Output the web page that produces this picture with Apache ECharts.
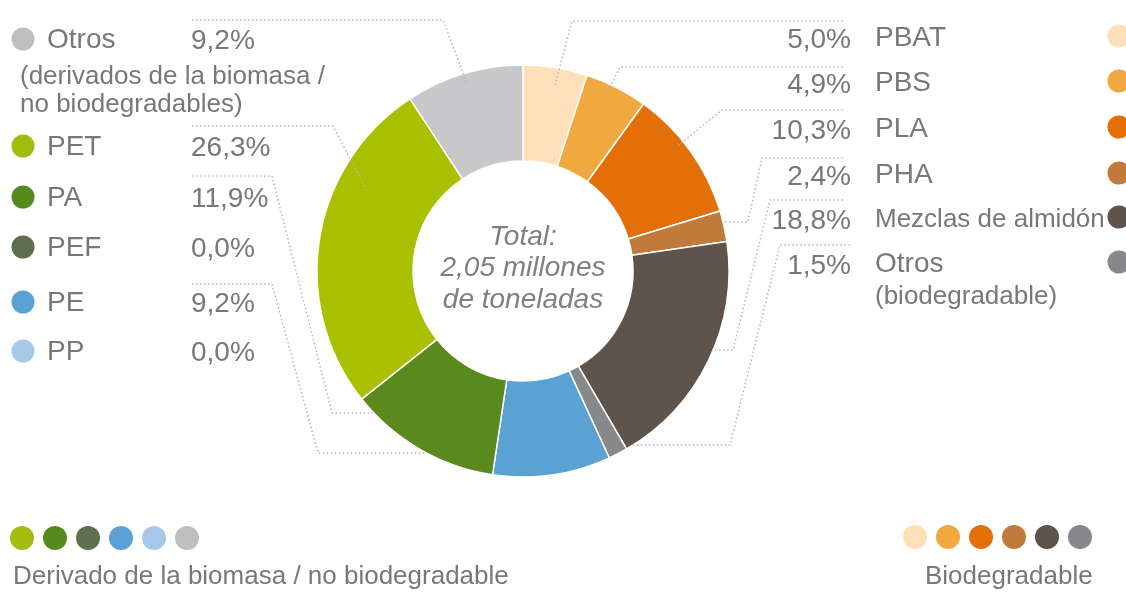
<!DOCTYPE html>
<html>
<head>
<meta charset="utf-8">
<script src="https://cdn.jsdelivr.net/npm/echarts@6/dist/echarts.min.js"></script>
<style>
  html, body { margin: 0; padding: 0; background: #fff; }
  #chart { width: 1126px; height: 595px; }
</style>
</head>
<body>
<div id="chart"></div>
<script>
// Biodegradable materials (share of 2,05 million tonnes, %)
const bioNames = ['PBAT', 'PBS', 'PLA', 'PHA', 'Mezclas de almidón', 'Otros'];
const bioValues = [5.0, 4.9, 10.3, 2.4, 18.8, 1.5];
const bioColors = ['#fde0ba', '#efa93f', '#e36f08', '#c07a3b', '#5e544c', '#88888a'];

// Bio-based / non-biodegradable materials (%)
const nbNames = ['PET', 'PA', 'PEF', 'PE', 'PP', 'Otros'];
const nbValues = [26.3, 11.9, 0.0, 9.2, 0.0, 9.2];
const nbColors = ['#a8c000', '#5a8a1e', '#5f6e4e', '#5ba2d4', '#a8c8ea', '#c8c8cb'];
const nbDotColors = ['#a2bd10', '#558a1f', '#5f6e4e', '#5aa1d6', '#a8c8ea', '#bfbfbf'];

// Clockwise order of the non-biodegradable slices after the biodegradable ones
const nbRingOrder = ['PE', 'PP', 'PEF', 'PA', 'PET', 'Otros'];

const centerLines = ['Total:', '2,05 millones', 'de toneladas'];

// ---- layout ----
const CX = 523, CY = 271, R_IN = 110, R_OUT = 206;
const FONT = '"Liberation Sans", Arial, Helvetica, sans-serif';
const TEXT = '#787878';
const LINE = '#b5b5b5';

const fmt = v => v.toFixed(1).replace('.', ',') + '%';

// slices in drawing order
const slices = [];
bioNames.forEach((n, i) => slices.push({ key: 'bio:' + n, name: n, value: bioValues[i], color: bioColors[i] }));
nbRingOrder.forEach(n => {
  const i = nbNames.indexOf(n);
  slices.push({ key: 'nb:' + n, name: n, value: nbValues[i], color: nbColors[i] });
});
const total = slices.reduce((s, d) => s + d.value, 0);
let acc = 0;
slices.forEach(d => { d.a0 = acc / total * 360; acc += d.value; d.a1 = acc / total * 360; });
const sliceByKey = {};
slices.forEach(d => sliceByKey[d.key] = d);

function polar(angleDeg, r) {
  const a = angleDeg * Math.PI / 180;
  return [CX + r * Math.sin(a), CY - r * Math.cos(a)];
}
function inSlice(key, frac, r) {
  const d = sliceByKey[key];
  return polar(d.a0 + (d.a1 - d.a0) * frac, r);
}
function toRim(y, side) {
  const dy = y - CY;
  const dx = Math.sqrt(Math.max(0, R_OUT * R_OUT - dy * dy));
  return [CX + side * dx, y];
}

// leader lines: label end -> elbow(s) -> slice
const leaders = [
  [[192, 20], [443, 20], inSlice('nb:Otros', 0.5, 196)],
  [[192, 126], [333, 126], inSlice('nb:PET', 0.69, 176)],
  [[192, 176], [272, 176], [332, 413], toRim(413, -1)],
  [[192, 284], [272, 284], [318, 453], toRim(453, -1)],
  [[843, 21], [572, 21], inSlice('bio:PBAT', 0.54, 189)],
  [[843, 67], [620, 67], inSlice('bio:PBS', 0.4, 195)],
  [[843, 110], [722, 110], inSlice('bio:PLA', 0.41, 198)],
  [[843, 158], [762, 158], [748, 222], toRim(222, 1)],
  [[843, 200], [770, 200], [733, 350], toRim(350, 1)],
  [[850, 245], [780, 245], [730, 445], toRim(445, 1)]
];

const graphics = [];

leaders.forEach(pts => graphics.push({
  type: 'polyline', z: 10, silent: true,
  shape: { points: pts },
  style: { stroke: LINE, lineWidth: 1.5, lineDash: [1.5, 2.5], fill: null }
}));

function text(str, x, y, size, align, extra) {
  graphics.push({
    type: 'text', z: 20, silent: true,
    style: Object.assign({
      text: str, x: x, y: y, fill: TEXT,
      fontSize: size, fontFamily: FONT,
      textAlign: align || 'left', textVerticalAlign: 'middle'
    }, extra || {})
  });
}
function dot(x, y, r, color) {
  graphics.push({
    type: 'circle', z: 20, silent: true,
    shape: { cx: x, cy: y, r: r },
    style: { fill: color }
  });
}

// left column (non-biodegradable)
const leftOrder = ['Otros', 'PET', 'PA', 'PEF', 'PE', 'PP'];
const leftRowY = [40, 147, 198, 248, 303, 352];
leftOrder.forEach((n, k) => {
  const i = nbNames.indexOf(n);
  const y = leftRowY[k];
  dot(23, y - 1, 11.5, nbDotColors[i]);
  text(n, 47, y, 28);
  text(fmt(nbValues[i]), 191, y + 1, 28);
});
text('(derivados de la biomasa /', 20, 77, 26);
text('no biodegradables)', 20, 105, 26);

// right column (biodegradable)
const rightRowY = [38, 83, 129, 175, 219, 264];
bioNames.forEach((n, i) => {
  const y = rightRowY[i];
  const small = n.length > 6;
  text(fmt(bioValues[i]), 851, y + 2, 28, 'right');
  text(n, 875, y + (small ? 1 : 0), small ? 26 : 28);
  dot(1119, y - 2, 11.5, bioColors[i]);
});
text('(biodegradable)', 875, 297, 26);

// group legends at the bottom
nbDotColors.forEach((c, i) => dot(22 + i * 33, 538, 12, c));
text('Derivado de la biomasa / no biodegradable', 13, 577, 26);
bioColors.forEach((c, i) => dot(915 + i * 33, 537, 12, c));
text('Biodegradable', 925, 577, 26);

// centre caption
centerLines.forEach((s, i) => text(s, CX, 237 + i * 31.5, 28, 'center', { fontStyle: 'italic', fill: '#808080' }));

const chart = echarts.init(document.getElementById('chart'), null, { renderer: 'canvas' });
chart.setOption({
  animation: false,
  backgroundColor: '#ffffff',
  series: [{
    type: 'pie',
    center: [CX, CY],
    radius: [R_IN, R_OUT],
    startAngle: 90,
    clockwise: true,
    silent: true,
    z: 2,
    label: { show: false },
    labelLine: { show: false },
    itemStyle: { borderColor: '#ffffff', borderWidth: 1.5 },
    data: slices.filter(d => d.value > 0).map(d => ({
      name: d.name, value: d.value, itemStyle: { color: d.color }
    }))
  }],
  graphic: graphics
});
</script>
</body>
</html>
